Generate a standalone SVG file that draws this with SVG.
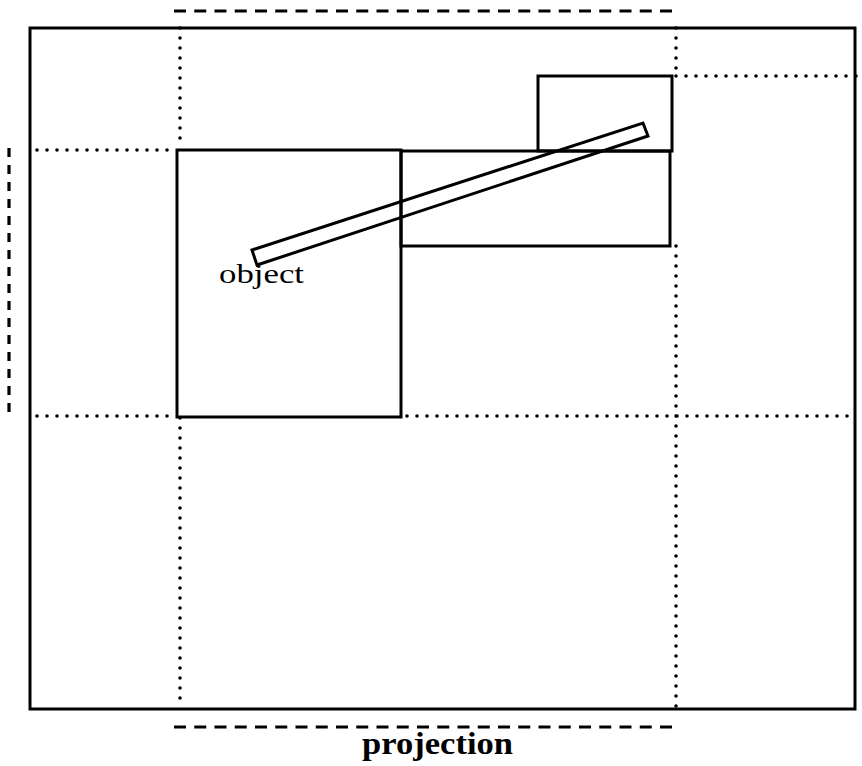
<svg xmlns="http://www.w3.org/2000/svg" width="862" height="766" viewBox="0 0 862 766">
<style>
.solid{fill:none;stroke:#000;stroke-width:3}
.dot{fill:none;stroke:#000;stroke-width:3.6;stroke-linecap:round;stroke-dasharray:0 10}
.dash{fill:none;stroke:#000;stroke-width:3.2;stroke-dasharray:12 8.25}
.vdash{fill:none;stroke:#000;stroke-width:3.2;stroke-dasharray:9 8}
</style>
<rect width="862" height="766" fill="#fff"/>
<g id="frame">
<rect class="solid" x="30" y="28" width="825" height="681"/>
</g>
<g id="guides">
<line class="dash" x1="174" y1="11" x2="673" y2="11"/>
<line class="dash" x1="174" y1="727" x2="673" y2="727"/>
<line class="vdash" x1="9" y1="148" x2="9" y2="417"/>
<line class="dot" x1="180" y1="28" x2="180" y2="148"/>
<line class="dot" x1="180" y1="418" x2="180" y2="708"/>
<line class="dot" x1="676" y1="28" x2="676" y2="76"/>
<line class="dot" x1="676" y1="246" x2="676" y2="708"/>
<line class="dot" x1="37" y1="150" x2="177" y2="150"/>
<line class="dot" x1="37" y1="416" x2="177" y2="416"/>
<line class="dot" x1="407" y1="416" x2="857" y2="416"/>
<line class="dot" x1="676" y1="76" x2="862" y2="76"/>
</g>
<g id="box-large">
<rect class="solid" x="177" y="150" width="224" height="267"/>
</g>
<g id="box-middle">
<rect class="solid" x="401" y="151" width="269" height="95"/>
</g>
<g id="box-small">
<rect class="solid" x="538" y="76" width="134" height="75"/>
</g>
<g id="object">
<polygon class="solid" points="252,250 257,265 648,136 643,123" fill="#fff"/>
<text x="219" y="283" font-family="Liberation Serif, serif" font-size="28" textLength="85" lengthAdjust="spacingAndGlyphs">object</text>
</g>
<g id="label">
<text x="362" y="754" font-family="Liberation Serif, serif" font-size="31" font-weight="bold" textLength="151" lengthAdjust="spacingAndGlyphs">projection</text>
</g>
</svg>
